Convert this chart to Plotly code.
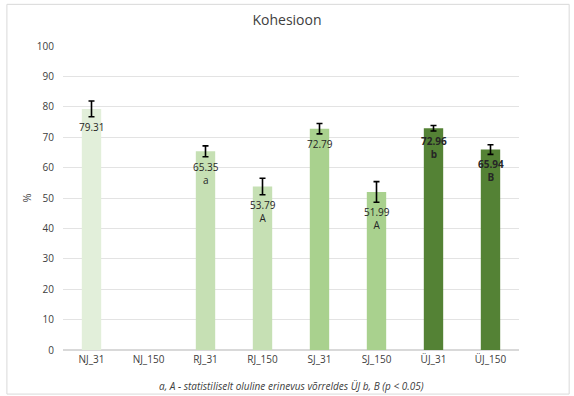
import plotly.graph_objects as go

# Cohesion (%) per sample group
categories = ["NJ_31", "NJ_150", "RJ_31", "RJ_150", "SJ_31", "SJ_150", "ÜJ_31", "ÜJ_150"]
values = [79.31, None, 65.35, 53.79, 72.79, 51.99, 72.96, 65.94]
errors = [2.6, 0, 1.8, 2.7, 1.7, 3.4, 0.9, 1.6]
letters = ["", "", "a", "A", "", "A", "b", "B"]
colors = ["#e2efda", "#e2efda", "#c6e0b4", "#c6e0b4", "#a9d18e", "#a9d18e", "#548235", "#548235"]
bold = [False, False, False, False, False, False, True, True]

FONT = "Open Sans, Liberation Sans, sans-serif"

fig = go.Figure()
fig.add_trace(go.Bar(
    x=categories,
    y=values,
    marker=dict(color=colors, line=dict(width=0)),
    width=0.34,
    error_y=dict(type="data", array=errors, color="#000000", thickness=1.6, width=3, visible=True),
    hoverinfo="x+y",
))

# value labels inside the top of each bar, with significance letters
for cat, v, e, let, b in zip(categories, values, errors, letters, bold):
    if v is None:
        continue
    num = f"{v:.2f}"
    txt = f"<b>{num}</b>" if b else num
    if let:
        txt += "<br>" + (f"<b>{let}</b>" if b else let)
    fig.add_annotation(
        x=cat, y=v - e, yanchor="top", xanchor="center",
        text=txt, showarrow=False, yshift=-1,
        font=dict(family=FONT, size=10, color="#262626"),
        align="center",
    )

fig.update_layout(
    width=574, height=396,
    margin=dict(l=63, r=55, t=46, b=46),
    paper_bgcolor="white", plot_bgcolor="white",
    showlegend=False,
    bargap=0.5,
    title=dict(text="Kohesioon", x=0.5, xanchor="center", y=0.948, yanchor="middle",
               font=dict(family=FONT, size=14, color="#404040")),
    font=dict(family=FONT, size=10, color="#404040"),
    xaxis=dict(showline=True, linecolor="#d9d9d9", linewidth=1, ticks="",
               tickfont=dict(family=FONT, size=10, color="#404040"), fixedrange=True),
    yaxis=dict(range=[0, 100], dtick=10, showgrid=True, gridcolor="#e3e3e3", gridwidth=1,
               zeroline=True, zerolinecolor="#d9d9d9", ticks="", ticklabelstandoff=8,
               tickfont=dict(family=FONT, size=10, color="#404040"),
               title=dict(text="%", font=dict(family=FONT, size=11, color="#404040"), standoff=2)),
)

fig.add_annotation(
    xref="paper", yref="paper", x=0.5, y=-0.12, yanchor="middle", xanchor="center",
    text="<i>a, A - statistiliselt oluline erinevus võrreldes ÜJ b, B (p &lt; 0.05)</i>",
    showarrow=False, font=dict(family=FONT, size=10, color="#404040"),
)

# chart frame
fig.add_shape(type="rect", xref="paper", yref="paper",
              x0=-0.123, x1=1.11, y0=-0.145, y1=1.137,
              line=dict(color="#d9d9d9", width=1), fillcolor="rgba(0,0,0,0)", layer="below")

fig.write_html("out.html")
